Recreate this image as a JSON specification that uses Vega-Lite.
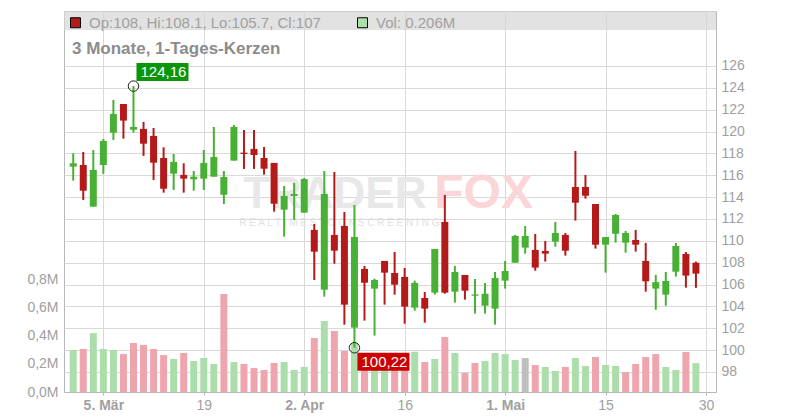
{
  "$schema": "https://vega.github.io/schema/vega-lite/v6.json",
  "width": 652,
  "height": 381,
  "autosize": "none",
  "padding": {"left": 64, "top": 11, "right": 84, "bottom": 28},
  "background": "white",
  "config": {"font": "Liberation Sans", "view": {"stroke": "#b8b8b8"}, "axis": {"labelOverlap": false}},
  "title": {"text": "3 Monate, 1-Tages-Kerzen", "anchor": "start", "frame": "group", "orient": "top", "offset": 0, "baseline": "alphabetic", "dx": 8, "dy": 60, "fontSize": 17, "fontWeight": "bold", "color": "#8c8c8c"},
  "datasets": {
    "ohlc": [
      {"i": 0, "date": "2019-02-28", "open": 116.79, "high": 118.01, "low": 115.51, "close": 117.10, "volume": 300000, "vdir": "up"},
      {"i": 1, "date": "2019-03-01", "open": 116.94, "high": 118.13, "low": 113.74, "close": 114.59, "volume": 307000, "vdir": "down"},
      {"i": 2, "date": "2019-03-04", "open": 113.13, "high": 118.31, "low": 113.13, "close": 116.49, "volume": 421000, "vdir": "up"},
      {"i": 3, "date": "2019-03-05", "open": 116.94, "high": 119.32, "low": 116.12, "close": 119.14, "volume": 307000, "vdir": "up"},
      {"i": 4, "date": "2019-03-06", "open": 119.90, "high": 122.89, "low": 119.23, "close": 121.61, "volume": 300000, "vdir": "up"},
      {"i": 5, "date": "2019-03-07", "open": 122.52, "high": 122.52, "low": 119.35, "close": 121.00, "volume": 271000, "vdir": "down"},
      {"i": 6, "date": "2019-03-08", "open": 120.17, "high": 124.16, "low": 119.90, "close": 120.42, "volume": 350000, "vdir": "down"},
      {"i": 7, "date": "2019-03-11", "open": 120.24, "high": 120.88, "low": 117.77, "close": 118.89, "volume": 336000, "vdir": "down"},
      {"i": 8, "date": "2019-03-12", "open": 119.60, "high": 120.33, "low": 115.57, "close": 117.15, "volume": 307000, "vdir": "down"},
      {"i": 9, "date": "2019-03-13", "open": 117.58, "high": 118.56, "low": 114.41, "close": 114.77, "volume": 264000, "vdir": "down"},
      {"i": 10, "date": "2019-03-14", "open": 116.15, "high": 117.95, "low": 114.66, "close": 117.22, "volume": 236000, "vdir": "up"},
      {"i": 11, "date": "2019-03-15", "open": 116.03, "high": 117.10, "low": 114.41, "close": 115.69, "volume": 279000, "vdir": "down"},
      {"i": 12, "date": "2019-03-18", "open": 115.63, "high": 116.39, "low": 114.59, "close": 115.87, "volume": 221000, "vdir": "up"},
      {"i": 13, "date": "2019-03-19", "open": 115.69, "high": 118.31, "low": 114.66, "close": 117.13, "volume": 243000, "vdir": "up"},
      {"i": 14, "date": "2019-03-20", "open": 115.87, "high": 120.42, "low": 115.87, "close": 117.67, "volume": 200000, "vdir": "up"},
      {"i": 15, "date": "2019-03-21", "open": 114.22, "high": 116.39, "low": 113.37, "close": 115.84, "volume": 700000, "vdir": "down"},
      {"i": 16, "date": "2019-03-22", "open": 117.34, "high": 120.60, "low": 117.34, "close": 120.42, "volume": 214000, "vdir": "up"},
      {"i": 17, "date": "2019-03-25", "open": 118.07, "high": 120.14, "low": 116.58, "close": 117.95, "volume": 200000, "vdir": "down"},
      {"i": 18, "date": "2019-03-26", "open": 118.41, "high": 120.14, "low": 116.58, "close": 117.85, "volume": 171000, "vdir": "down"},
      {"i": 19, "date": "2019-03-27", "open": 117.58, "high": 118.59, "low": 116.06, "close": 116.60, "volume": 157000, "vdir": "down"},
      {"i": 20, "date": "2019-03-28", "open": 117.13, "high": 117.13, "low": 112.67, "close": 113.40, "volume": 207000, "vdir": "down"},
      {"i": 21, "date": "2019-03-29", "open": 112.85, "high": 115.02, "low": 110.38, "close": 114.11, "volume": 214000, "vdir": "up"},
      {"i": 22, "date": "2019-04-01", "open": 114.11, "high": 115.30, "low": 111.91, "close": 114.29, "volume": 157000, "vdir": "up"},
      {"i": 23, "date": "2019-04-02", "open": 112.58, "high": 115.75, "low": 112.58, "close": 115.66, "volume": 179000, "vdir": "up"},
      {"i": 24, "date": "2019-04-03", "open": 111.00, "high": 111.54, "low": 106.42, "close": 109.01, "volume": 386000, "vdir": "down"},
      {"i": 25, "date": "2019-04-04", "open": 105.53, "high": 116.39, "low": 104.89, "close": 114.29, "volume": 507000, "vdir": "up"},
      {"i": 26, "date": "2019-04-05", "open": 110.54, "high": 116.30, "low": 107.91, "close": 109.10, "volume": 436000, "vdir": "down"},
      {"i": 27, "date": "2019-04-08", "open": 111.36, "high": 112.64, "low": 102.33, "close": 104.16, "volume": 293000, "vdir": "down"},
      {"i": 28, "date": "2019-04-09", "open": 102.06, "high": 113.28, "low": 100.22, "close": 110.35, "volume": 350000, "vdir": "up"},
      {"i": 29, "date": "2019-04-10", "open": 107.43, "high": 107.70, "low": 102.70, "close": 106.17, "volume": 220000, "vdir": "down"},
      {"i": 30, "date": "2019-04-11", "open": 105.63, "high": 106.54, "low": 101.33, "close": 106.42, "volume": 200000, "vdir": "up"},
      {"i": 31, "date": "2019-04-12", "open": 108.16, "high": 108.16, "low": 104.16, "close": 107.09, "volume": 190000, "vdir": "up"},
      {"i": 32, "date": "2019-04-15", "open": 107.06, "high": 108.98, "low": 105.08, "close": 105.99, "volume": 240000, "vdir": "down"},
      {"i": 33, "date": "2019-04-16", "open": 106.70, "high": 107.52, "low": 102.42, "close": 103.98, "volume": 260000, "vdir": "down"},
      {"i": 34, "date": "2019-04-17", "open": 103.89, "high": 106.36, "low": 103.61, "close": 106.15, "volume": 288000, "vdir": "up"},
      {"i": 35, "date": "2019-04-18", "open": 104.77, "high": 105.32, "low": 102.51, "close": 103.80, "volume": 214000, "vdir": "down"},
      {"i": 36, "date": "2019-04-22", "open": 105.26, "high": 109.26, "low": 105.08, "close": 109.26, "volume": 236000, "vdir": "up"},
      {"i": 37, "date": "2019-04-23", "open": 111.73, "high": 114.20, "low": 105.17, "close": 105.26, "volume": 393000, "vdir": "down"},
      {"i": 38, "date": "2019-04-24", "open": 105.35, "high": 107.70, "low": 104.35, "close": 107.15, "volume": 279000, "vdir": "up"},
      {"i": 39, "date": "2019-04-25", "open": 106.88, "high": 106.88, "low": 104.62, "close": 105.44, "volume": 136000, "vdir": "down"},
      {"i": 40, "date": "2019-04-26", "open": 104.98, "high": 106.51, "low": 103.34, "close": 105.10, "volume": 207000, "vdir": "down"},
      {"i": 41, "date": "2019-04-29", "open": 104.07, "high": 106.15, "low": 103.34, "close": 105.16, "volume": 221000, "vdir": "up"},
      {"i": 42, "date": "2019-04-30", "open": 103.80, "high": 107.15, "low": 102.33, "close": 106.60, "volume": 279000, "vdir": "up"},
      {"i": 43, "date": "2019-05-01", "open": 106.36, "high": 108.16, "low": 105.63, "close": 107.24, "volume": 271000, "vdir": "up"},
      {"i": 44, "date": "2019-05-02", "open": 108.00, "high": 110.54, "low": 108.00, "close": 110.45, "volume": 229000, "vdir": "up"},
      {"i": 45, "date": "2019-05-03", "open": 109.38, "high": 111.36, "low": 108.83, "close": 110.45, "volume": 243000, "vdir": "flat"},
      {"i": 46, "date": "2019-05-06", "open": 109.17, "high": 110.63, "low": 107.27, "close": 107.55, "volume": 193000, "vdir": "down"},
      {"i": 47, "date": "2019-05-07", "open": 109.07, "high": 109.99, "low": 108.10, "close": 108.83, "volume": 179000, "vdir": "up"},
      {"i": 48, "date": "2019-05-08", "open": 109.93, "high": 111.73, "low": 109.47, "close": 110.72, "volume": 150000, "vdir": "up"},
      {"i": 49, "date": "2019-05-09", "open": 110.54, "high": 110.72, "low": 108.65, "close": 109.10, "volume": 179000, "vdir": "down"},
      {"i": 50, "date": "2019-05-10", "open": 114.93, "high": 118.22, "low": 111.85, "close": 113.49, "volume": 243000, "vdir": "up"},
      {"i": 51, "date": "2019-05-13", "open": 114.93, "high": 116.03, "low": 113.86, "close": 114.13, "volume": 186000, "vdir": "up"},
      {"i": 52, "date": "2019-05-14", "open": 113.37, "high": 113.37, "low": 109.29, "close": 109.65, "volume": 250000, "vdir": "down"},
      {"i": 53, "date": "2019-05-15", "open": 109.65, "high": 110.35, "low": 107.09, "close": 110.35, "volume": 193000, "vdir": "up"},
      {"i": 54, "date": "2019-05-16", "open": 110.65, "high": 112.46, "low": 109.84, "close": 112.37, "volume": 186000, "vdir": "up"},
      {"i": 55, "date": "2019-05-17", "open": 109.84, "high": 110.90, "low": 108.92, "close": 110.72, "volume": 143000, "vdir": "down"},
      {"i": 56, "date": "2019-05-20", "open": 110.08, "high": 111.00, "low": 109.01, "close": 109.65, "volume": 200000, "vdir": "down"},
      {"i": 57, "date": "2019-05-21", "open": 108.16, "high": 109.81, "low": 105.35, "close": 106.30, "volume": 250000, "vdir": "down"},
      {"i": 58, "date": "2019-05-22", "open": 105.63, "high": 106.88, "low": 103.70, "close": 106.22, "volume": 271000, "vdir": "down"},
      {"i": 59, "date": "2019-05-23", "open": 105.08, "high": 107.15, "low": 104.07, "close": 106.33, "volume": 179000, "vdir": "up"},
      {"i": 60, "date": "2019-05-24", "open": 107.18, "high": 109.81, "low": 106.73, "close": 109.53, "volume": 157000, "vdir": "up"},
      {"i": 61, "date": "2019-05-28", "open": 108.80, "high": 108.98, "low": 105.72, "close": 106.82, "volume": 286000, "vdir": "down"},
      {"i": 62, "date": "2019-05-29", "open": 108.00, "high": 108.10, "low": 105.70, "close": 107.00, "volume": 206000, "vdir": "up"}
    ]
  },
  "layer": [
    {
      "data": {"name": "ohlc"},
      "mark": {"type": "bar", "width": 7},
      "encoding": {
        "x": {
          "field": "i", "type": "quantitative",
          "scale": {"domain": [-0.42, 63.5], "nice": false, "zero": false},
          "axis": {
            "values": [3, 13, 23, 33, 43, 53, 63], "tickCount": 20,
            "labelExpr": "datum.value == 3 ? '5. Mär' : datum.value == 13 ? '19' : datum.value == 23 ? '2. Apr' : datum.value == 33 ? '16' : datum.value == 43 ? '1. Mai' : datum.value == 53 ? '15' : '30'",
            "title": null, "grid": true, "gridColor": "#d9d9d9", "domain": false,
            "tickSize": 3, "tickColor": "#b8b8b8", "labelFontSize": 14, "labelColor": "#a0a0a0",
            "labelFontWeight": {"condition": {"test": "datum.value == 3 || datum.value == 23 || datum.value == 43", "value": "bold"}, "value": "normal"},
            "labelPadding": 3, "labelFlush": false, "labelOverlap": false
          }
        },
        "y": {
          "field": "volume", "type": "quantitative",
          "scale": {"domain": [0, 2721400], "nice": false},
          "axis": {
            "orient": "left", "values": [0, 200000, 400000, 600000, 800000], "tickCount": 20,
            "labelExpr": "replace(format(datum.value / 1000000, '.1f'), '.', ',') + 'M'",
            "title": null, "grid": false, "domain": false, "tickSize": 0, "labelOverlap": false,
            "labelFontSize": 14, "labelColor": "#a0a0a0", "labelPadding": 6
          }
        },
        "color": {"condition": [{"test": "datum.vdir === 'up'", "value": "#abdeaa"}, {"test": "datum.vdir === 'flat'", "value": "#bfbfbf"}], "value": "#eea5ad"}
      }
    },
    {
      "layer": [
        {
          "data": {"values": [{"top": 131.03, "bottom": 129.29}]},
          "mark": {"type": "rect", "color": "#d6d6d6", "opacity": 0.7},
          "encoding": {
            "y": {
              "field": "bottom", "type": "quantitative", "title": null,
              "scale": {"domain": [96.17, 131.03], "nice": false, "zero": false},
              "axis": {
                "orient": "right", "values": [98, 100, 102, 104, 106, 108, 110, 112, 114, 116, 118, 120, 122, 124, 126], "tickCount": 30,
                "title": null, "grid": true, "gridColor": "#d9d9d9", "domain": false, "tickSize": 0, "labelOverlap": false,
                "labelFontSize": 14, "labelColor": "#a0a0a0", "labelPadding": 5
              }
            },
            "y2": {"field": "top"}
          }
        },
        {
          "data": {"values": [{"i": 35.17, "p": 112.98, "t": "TRADER"}]},
          "mark": {"type": "text", "align": "right", "baseline": "alphabetic", "fontSize": 44, "fontWeight": "bold", "color": "#e8e8e8"},
          "encoding": {"x": {"field": "i", "type": "quantitative"}, "y": {"field": "p", "type": "quantitative", "title": null}, "text": {"field": "t"}}
        },
        {
          "data": {"values": [{"i": 35.95, "p": 112.98, "t": "FOX"}]},
          "mark": {"type": "text", "align": "left", "baseline": "alphabetic", "fontSize": 48, "fontWeight": "bold", "color": "#fbd6d8"},
          "encoding": {"x": {"field": "i", "type": "quantitative"}, "y": {"field": "p", "type": "quantitative", "title": null}, "text": {"field": "t"}}
        },
        {
          "data": {"values": [{"i": 26.5, "p": 111.65, "t": "R E A L T I M E   S T O C K   S C R E E N I N G"}]},
          "mark": {"type": "text", "align": "center", "baseline": "middle", "fontSize": 10, "color": "#e2e2e2"},
          "encoding": {"x": {"field": "i", "type": "quantitative"}, "y": {"field": "p", "type": "quantitative", "title": null}, "text": {"field": "t"}}
        },
        {
          "data": {"values": [{"lg": "Op:108, Hi:108.1, Lo:105.7, Cl:107", "i": 0, "p": 100}, {"lg": "Vol: 0.206M", "i": 0, "p": 100}]},
          "mark": {"type": "square", "opacity": 0, "size": 100},
          "encoding": {
            "x": {"field": "i", "type": "quantitative"},
            "y": {"field": "p", "type": "quantitative", "title": null},
            "color": {
              "field": "lg", "type": "nominal",
              "scale": {"domain": ["Op:108, Hi:108.1, Lo:105.7, Cl:107", "Vol: 0.206M"], "range": ["#b51a1a", "#addfab"]},
              "legend": {
                "orient": "top-left", "offset": 4, "direction": "horizontal", "title": null, "padding": 0,
                "symbolType": "square", "symbolSize": 100, "symbolOpacity": 1, "symbolStrokeColor": "#000000", "symbolStrokeWidth": 1,
                "labelFontSize": 15, "labelColor": "#a0a0a0", "labelLimit": 400, "labelOffset": 6, "columnPadding": 34
              }
            }
          }
        },
        {
          "data": {"name": "ohlc"},
          "mark": {"type": "rule", "strokeWidth": 2},
          "encoding": {
            "x": {"field": "i", "type": "quantitative"},
            "y": {"field": "low", "type": "quantitative", "title": null},
            "y2": {"field": "high"},
            "color": {"condition": {"test": "datum.close >= datum.open", "value": "#48b034"}, "value": "#b51a1a"}
          }
        },
        {
          "data": {"name": "ohlc"},
          "mark": {"type": "bar", "width": 7},
          "encoding": {
            "x": {"field": "i", "type": "quantitative"},
            "y": {"field": "open", "type": "quantitative", "title": null},
            "y2": {"field": "close"},
            "color": {"condition": {"test": "datum.close >= datum.open", "value": "#48b034"}, "value": "#b51a1a"}
          }
        },
        {
          "data": {"values": [{"i": 6, "p": 124.16, "t": "124,16"}]},
          "layer": [
            {"mark": {"type": "rect", "color": "#0a960a", "xOffset": 3, "x2Offset": 55, "yOffset": -23, "y2Offset": -5},
             "encoding": {"x": {"field": "i", "type": "quantitative"}, "x2": {"field": "i"}, "y": {"field": "p", "type": "quantitative", "title": null}, "y2": {"field": "p"}}},
            {"mark": {"type": "text", "align": "left", "baseline": "middle", "dx": 7, "dy": -14, "fontSize": 15, "color": "#ffffff"},
             "encoding": {"x": {"field": "i", "type": "quantitative"}, "y": {"field": "p", "type": "quantitative", "title": null}, "text": {"field": "t"}}},
            {"mark": {"type": "point", "shape": "circle", "filled": false, "size": 110, "color": "#222222", "strokeWidth": 1, "opacity": 1},
             "encoding": {"x": {"field": "i", "type": "quantitative"}, "y": {"field": "p", "type": "quantitative", "title": null}}}
          ]
        },
        {
          "data": {"values": [{"i": 28, "p": 100.22, "t": "100,22"}]},
          "layer": [
            {"mark": {"type": "rect", "color": "#cc0000", "xOffset": 3, "x2Offset": 55, "yOffset": 5, "y2Offset": 23},
             "encoding": {"x": {"field": "i", "type": "quantitative"}, "x2": {"field": "i"}, "y": {"field": "p", "type": "quantitative", "title": null}, "y2": {"field": "p"}}},
            {"mark": {"type": "text", "align": "left", "baseline": "middle", "dx": 7, "dy": 14, "fontSize": 15, "color": "#ffffff"},
             "encoding": {"x": {"field": "i", "type": "quantitative"}, "y": {"field": "p", "type": "quantitative", "title": null}, "text": {"field": "t"}}},
            {"mark": {"type": "point", "shape": "circle", "filled": false, "size": 110, "color": "#222222", "strokeWidth": 1, "opacity": 1},
             "encoding": {"x": {"field": "i", "type": "quantitative"}, "y": {"field": "p", "type": "quantitative", "title": null}}}
          ]
        }
      ]
    }
  ],
  "resolve": {"scale": {"y": "independent"}}
}
